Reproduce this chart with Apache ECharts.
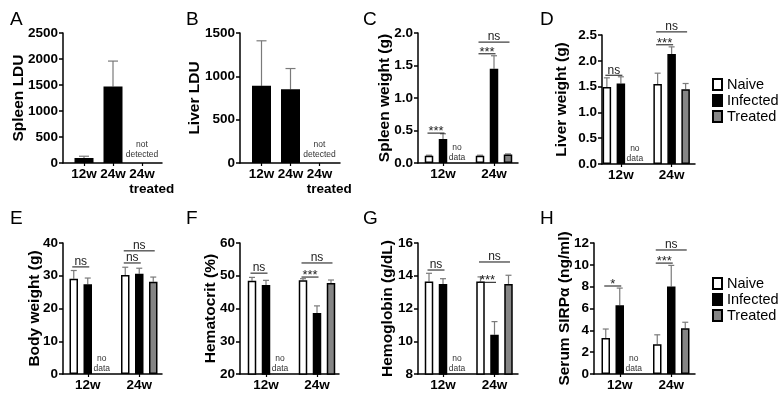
<!DOCTYPE html>
<html><head><meta charset="utf-8">
<script src="https://cdn.jsdelivr.net/npm/echarts@6/dist/echarts.min.js"></script>
<style>html,body{margin:0;padding:0;background:#fff}#c{width:780px;height:398px}</style>
</head><body><div id="c"></div>
<script>
// ---------------- DATA ----------------
const ldCategories = ['12w', '24w', '24w treated'];
const spleenLDU   = [95, 1470, null];
const spleenLDUSd = [35, 490, null];
const liverLDU    = [890, 850, null];
const liverLDUSd  = [520, 240, null];

const weekCategories = ['12w', '24w'];
const groupNames = ['Naive', 'Infected', 'Treated'];

const spleenWtNaive = [0.11, 0.11],   spleenWtNaiveSd = [0.01, 0.01];
const spleenWtInfected = [0.37, 1.45], spleenWtInfectedSd = [0.08, 0.20];
const spleenWtTreated = [null, 0.13], spleenWtTreatedSd = [null, 0.01];

const liverWtNaive = [1.49, 1.55],    liverWtNaiveSd = [0.18, 0.21];
const liverWtInfected = [1.56, 2.13], liverWtInfectedSd = [0.13, 0.14];
const liverWtTreated = [null, 1.45],  liverWtTreatedSd = [null, 0.11];

const bodyWtNaive = [29.1, 30.2],     bodyWtNaiveSd = [2.5, 2.4];
const bodyWtInfected = [27.4, 30.6],  bodyWtInfectedSd = [1.9, 1.7];
const bodyWtTreated = [null, 28.2],   bodyWtTreatedSd = [null, 1.4];

const hctNaive = [48.5, 48.6],        hctNaiveSd = [1.0, 0.5];
const hctInfected = [47.2, 38.6],     hctInfectedSd = [1.4, 2.2];
const hctTreated = [null, 47.8],      hctTreatedSd = [null, 0.9];

const hgbNaive = [13.65, 13.65],      hgbNaiveSd = [0.5, 0.28];
const hgbInfected = [13.5, 10.4],     hgbInfectedSd = [0.32, 0.8];
const hgbTreated = [null, 13.5],      hgbTreatedSd = [null, 0.53];

const sirpNaive = [3.3, 2.72],        sirpNaiveSd = [0.82, 0.87];
const sirpInfected = [6.3, 8.02],     sirpInfectedSd = [1.57, 1.93];
const sirpTreated = [null, 4.19],     sirpTreatedSd = [null, 0.55];

// y tick labels
const yTicksA = [0, 500, 1000, 1500, 2000, 2500];
const yTicksB = [0, 500, 1000, 1500];
const yTicksC = [0, 0.5, 1.0, 1.5, 2.0];
const yTicksD = [0, 0.5, 1.0, 1.5, 2.0, 2.5];
const yTicksE = [0, 10, 20, 30, 40];
const yTicksF = [20, 30, 40, 50, 60];
const yTicksG = [8, 10, 12, 14, 16];
const yTicksH = [0, 2, 4, 6, 8, 10, 12];

// significance: [category index, from group, to group, bracket height, label]
const sigC = [[0, 0, 1, 0.46, '***'], [1, 0, 1, 1.68, '***'], [1, 0, 2, 1.86, 'ns']];
const sigD = [[0, 0, 1, 1.72, 'ns'],  [1, 0, 1, 2.31, '***'], [1, 0, 2, 2.56, 'ns']];
const sigE = [[0, 0, 1, 32.7, 'ns'],  [1, 0, 1, 33.9, 'ns'],  [1, 0, 2, 37.6, 'ns']];
const sigF = [[0, 0, 1, 50.8, 'ns'],  [1, 0, 1, 49.6, '***'], [1, 0, 2, 53.9, 'ns']];
const sigG = [[0, 0, 1, 14.35, 'ns'], [1, 0, 1, 13.6, '***'], [1, 0, 2, 14.84, 'ns']];
const sigH = [[0, 0, 1, 8.06, '*'],   [1, 0, 1, 10.16, '***'], [1, 0, 2, 11.36, 'ns']];

// ---------------- STYLE / LAYOUT ----------------
const FONT = '"Liberation Sans", Arial, Helvetica, sans-serif';
const LW = 1.5;
const ERR = '#7a7a7a';
const groupColors = ['#ffffff', '#000000', '#858585'];

const option = {
  animation: false,
  backgroundColor: '#fff',
  textStyle: { fontFamily: FONT },
  title: [], grid: [], xAxis: [], yAxis: [], series: [],
  legend: []
};

function errRender(slot, n, step, capW) {
  return function (params, api) {
    const cat = api.value(0), m = api.value(1), sd = api.value(2);
    const base = api.coord([cat, m]), top = api.coord([cat, m + sd]);
    const x = base[0] + (slot - (n - 1) / 2) * step;
    return { type: 'group', children: [
      { type: 'line', shape: { x1: x, y1: base[1], x2: x, y2: top[1] }, style: { stroke: ERR, lineWidth: 1.2 } },
      { type: 'line', shape: { x1: x - capW / 2, y1: top[1], x2: x + capW / 2, y2: top[1] }, style: { stroke: ERR, lineWidth: 1.2 } }
    ]};
  };
}

function buildPanel(p) {
  const g = option.grid.length;
  const ymin = p.ticks[0], ymax = p.ticks[p.ticks.length - 1], yint = p.ticks[1] - p.ticks[0];
  const n = p.groups.length;
  const step = p.barW * (1 + p.gap);
  option.title.push({ text: p.letter, left: p.lx, top: p.ly, padding: 0,
    textStyle: { fontSize: 19, fontWeight: 'normal', color: '#000', fontFamily: FONT } });
  option.grid.push({ left: p.axL, top: p.top, width: p.axR - p.axL, height: p.bot - p.top, containLabel: false, outerBoundsMode: 'none' });
  option.grid.push({ left: p.barL, top: p.top, width: p.barR - p.barL, height: p.bot - p.top, containLabel: false, outerBoundsMode: 'none' });
  option.xAxis.push({ gridIndex: g, type: 'category', data: p.cats,
    axisLine: { show: true, lineStyle: { color: '#000', width: LW } },
    axisTick: { show: false }, axisLabel: { show: false }, splitLine: { show: false } });
  option.xAxis.push({ gridIndex: g + 1, type: 'category', data: p.cats,
    axisLine: { show: false },
    axisTick: { show: true, alignWithLabel: true, length: 3, lineStyle: { color: '#000', width: 1.2 } },
    axisLabel: { interval: 0, margin: 4, fontSize: 13.5, fontWeight: 'bold', color: '#000', fontFamily: FONT,
      formatter: function (v) { return v === '24w treated' ? '{s| }{a|24w}\n{s| }{a|treated}' : v; },
      rich: {
        s: { width: 19.5, align: 'left', fontSize: 13.5, lineHeight: 15 },
        a: { align: 'left', fontSize: 13.5, fontWeight: 'bold', color: '#000', fontFamily: FONT, lineHeight: 15 }
      } },
    splitLine: { show: false } });
  option.yAxis.push({ gridIndex: g, type: 'value', min: ymin, max: ymax, interval: yint,
    name: p.name, nameLocation: 'middle', nameGap: p.nameGap, nameMoveOverlap: false,
    nameTextStyle: { fontSize: 15.5, fontWeight: 'bold', color: '#000', fontFamily: FONT },
    axisLine: { show: true, lineStyle: { color: '#000', width: LW } },
    axisTick: { show: true, length: 4, lineStyle: { color: '#000', width: LW } },
    axisLabel: { margin: 5, fontSize: 13.5, fontWeight: 'bold', color: '#000', fontFamily: FONT,
      formatter: p.fmt || function (v) { return String(v); } },
    splitLine: { show: false } });
  option.yAxis.push({ gridIndex: g + 1, type: 'value', min: ymin, max: ymax, interval: yint, show: false,
    splitLine: { show: false } });

  p.groups.forEach(function (grp, k) {
    option.series.push({ type: 'bar', name: grp.name, xAxisIndex: g + 1, yAxisIndex: g + 1,
      data: grp.values, barWidth: p.barW, barGap: (p.gap * 100) + '%',
      itemStyle: { color: grp.color, borderColor: '#000', borderWidth: LW }, z: 3 });
    const ed = [];
    grp.values.forEach(function (v, i) { if (v != null) ed.push([i, v, grp.sd[i]]); });
    option.series.push({ type: 'custom', xAxisIndex: g + 1, yAxisIndex: g + 1, data: ed,
      renderItem: errRender(k, n, step, p.capW), z: 2, silent: true });
  });

  if (p.sig) {
    const sig = p.sig;
    option.series.push({ type: 'custom', xAxisIndex: g + 1, yAxisIndex: g + 1,
      data: sig.map(function (s) { return [s[0], s[3]]; }), z: 5, silent: true,
      renderItem: function (params, api) {
        const s = sig[params.dataIndex];
        const c = api.coord([s[0], s[3]]);
        const x1 = c[0] + (s[1] - (n - 1) / 2) * step - 1.5;
        const x2 = c[0] + (s[2] - (n - 1) / 2) * step + 1.5;
        const star = s[4].indexOf('*') >= 0;
        return { type: 'group', children: [
          { type: 'line', shape: { x1: x1, y1: c[1], x2: x2, y2: c[1] }, style: { stroke: '#111', lineWidth: 1 } },
          { type: 'text', style: { text: s[4], x: (x1 + x2) / 2, y: star ? c[1] + 5 : c[1] + 1,
            align: 'center', verticalAlign: 'bottom', fontSize: star ? 13 : 12, fontFamily: FONT, fill: '#222' } }
        ]};
      } });
  }
  if (p.nd) {
    const nd = p.nd;
    option.series.push({ type: 'custom', xAxisIndex: g + 1, yAxisIndex: g + 1,
      data: [[nd.cat, ymin]], z: 5, silent: true,
      renderItem: function (params, api) {
        const c = api.coord([nd.cat, ymin]);
        const x = c[0] + (nd.slot - (n - 1) / 2) * step;
        return { type: 'text', style: { text: nd.text, x: x, y: c[1] - nd.dy,
          align: 'center', verticalAlign: 'bottom', fontSize: 8.5, lineHeight: 10, fontFamily: FONT, fill: '#333' } };
      } });
  }
}

function three(v0, s0, v1, s1, v2, s2) {
  return [
    { name: groupNames[0], color: groupColors[0], values: v0, sd: s0 },
    { name: groupNames[1], color: groupColors[1], values: v1, sd: s1 },
    { name: groupNames[2], color: groupColors[2], values: v2, sd: s2 }
  ];
}
const fmt1 = function (v) { return v.toFixed(1); };
const GAP = 0.647, BW = 8.5;

buildPanel({ letter: 'A', lx: 10, ly: 10, axL: 63, axR: 162, top: 33, bot: 163, barL: 69.5, barR: 156.5,
  cats: ldCategories, ticks: yTicksA, name: 'Spleen LDU', nameGap: 36, barW: 19, gap: 0.3, capW: 10,
  groups: [{ name: 'Spleen LDU', color: '#000', values: spleenLDU, sd: spleenLDUSd }],
  nd: { cat: 2, slot: 0, text: 'not\ndetected', dy: 3 } });
buildPanel({ letter: 'B', lx: 186, ly: 10, axL: 240, axR: 340, top: 33, bot: 163, barL: 247, barR: 334,
  cats: ldCategories, ticks: yTicksB, name: 'Liver LDU', nameGap: 37, barW: 19, gap: 0.3, capW: 10,
  groups: [{ name: 'Liver LDU', color: '#000', values: liverLDU, sd: liverLDUSd }],
  nd: { cat: 2, slot: 0, text: 'not\ndetected', dy: 3 } });
buildPanel({ letter: 'C', lx: 363, ly: 10, axL: 418, axR: 518, top: 33, bot: 163, barL: 417.5, barR: 519.5,
  cats: weekCategories, ticks: yTicksC, name: 'Spleen weight (g)', nameGap: 25, barW: BW, gap: GAP, capW: 6, fmt: fmt1,
  groups: three(spleenWtNaive, spleenWtNaiveSd, spleenWtInfected, spleenWtInfectedSd, spleenWtTreated, spleenWtTreatedSd),
  sig: sigC, nd: { cat: 0, slot: 2, text: 'no\ndata', dy: 0 } });
buildPanel({ letter: 'D', lx: 540, ly: 10, axL: 602, axR: 695, top: 35, bot: 164, barL: 595.5, barR: 697,
  cats: weekCategories, ticks: yTicksD, name: 'Liver weight (g)', nameGap: 32, barW: BW, gap: GAP, capW: 6, fmt: fmt1,
  groups: three(liverWtNaive, liverWtNaiveSd, liverWtInfected, liverWtInfectedSd, liverWtTreated, liverWtTreatedSd),
  sig: sigD, nd: { cat: 0, slot: 2, text: 'no\ndata', dy: 0 } });
buildPanel({ letter: 'E', lx: 10, ly: 209, axL: 63, axR: 162, top: 243, bot: 374, barL: 62, barR: 165,
  cats: weekCategories, ticks: yTicksE, name: 'Body weight (g)', nameGap: 20, barW: BW, gap: GAP, capW: 6,
  groups: three(bodyWtNaive, bodyWtNaiveSd, bodyWtInfected, bodyWtInfectedSd, bodyWtTreated, bodyWtTreatedSd),
  sig: sigE, nd: { cat: 0, slot: 2, text: 'no\ndata', dy: 0 } });
buildPanel({ letter: 'F', lx: 186, ly: 209, axL: 240, axR: 339, top: 243, bot: 374, barL: 240.5, barR: 342.5,
  cats: weekCategories, ticks: yTicksF, name: 'Hematocrit (%)', nameGap: 21, barW: BW, gap: GAP, capW: 6,
  groups: three(hctNaive, hctNaiveSd, hctInfected, hctInfectedSd, hctTreated, hctTreatedSd),
  sig: sigF, nd: { cat: 0, slot: 2, text: 'no\ndata', dy: 0 } });
buildPanel({ letter: 'G', lx: 363, ly: 209, axL: 418, axR: 518, top: 243, bot: 374, barL: 417.25, barR: 520.25,
  cats: weekCategories, ticks: yTicksG, name: 'Hemoglobin (g/dL)', nameGap: 22, barW: BW, gap: GAP, capW: 6,
  groups: three(hgbNaive, hgbNaiveSd, hgbInfected, hgbInfectedSd, hgbTreated, hgbTreatedSd),
  sig: sigG, nd: { cat: 0, slot: 2, text: 'no\ndata', dy: 0 } });
buildPanel({ letter: 'H', lx: 540, ly: 209, axL: 594, axR: 695, top: 243, bot: 374, barL: 594, barR: 697,
  cats: weekCategories, ticks: yTicksH, name: 'Serum SIRPα (ng/ml)', nameGap: 21, barW: BW, gap: GAP, capW: 6,
  groups: three(sirpNaive, sirpNaiveSd, sirpInfected, sirpInfectedSd, sirpTreated, sirpTreatedSd),
  sig: sigH, nd: { cat: 0, slot: 2, text: 'no\ndata', dy: 0 } });

[77, 276].forEach(function (t) {
  option.legend.push({ data: groupNames, orient: 'vertical', left: 712, top: t, padding: 0,
    itemWidth: 9, itemHeight: 11, itemGap: 1, icon: 'rect', selectedMode: false,
    textStyle: { fontSize: 14.5, color: '#000', fontFamily: FONT } });
});

const chart = echarts.init(document.getElementById('c'), null, { renderer: 'canvas' });
chart.setOption(option);
</script>
</body></html>
